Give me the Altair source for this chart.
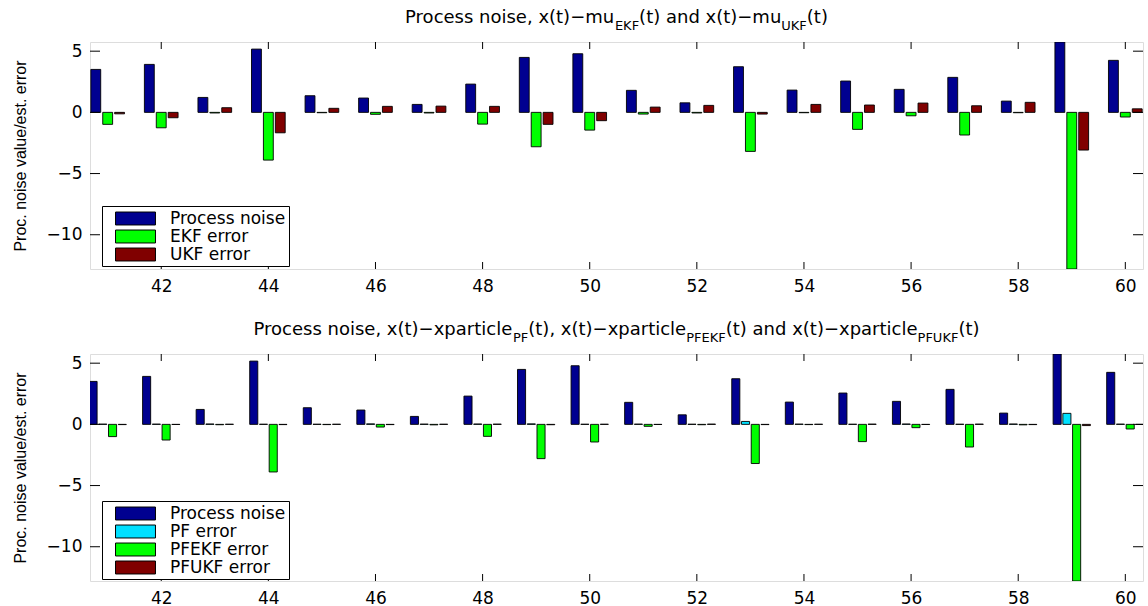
import altair as alt
import pandas as pd

# ---------------- data ----------------
t = list(range(41, 61))
process_noise = [3.51, 3.92, 1.22, 5.17, 1.36, 1.17, 0.65, 2.31, 4.49, 4.79,
                 1.80, 0.78, 3.73, 1.82, 2.56, 1.88, 2.86, 0.92, 5.75, 4.25]
ekf_error = [-0.98, -1.26, -0.05, -3.90, -0.03, -0.16, -0.05, -0.96, -2.81, -1.45,
             -0.14, -0.05, -3.19, -0.03, -1.39, -0.28, -1.85, -0.03, -12.8, -0.38]
ukf_error = [-0.12, -0.44, 0.38, -1.67, 0.33, 0.49, 0.51, 0.49, -0.98, -0.68,
             0.43, 0.57, -0.14, 0.65, 0.60, 0.76, 0.54, 0.82, -3.08, 0.29]
pf_error = [0.02, 0.02, 0.03, 0.01, 0.01, 0.04, 0.02, 0.03, 0.04, 0.01,
            0.02, 0.01, 0.24, 0.02, 0.01, 0.03, 0.01, 0.03, 0.90, 0.02]
pfekf_error = [-1.00, -1.28, -0.03, -3.89, -0.02, -0.22, -0.04, -0.98, -2.80, -1.44,
               -0.16, -0.03, -3.20, -0.02, -1.41, -0.27, -1.85, -0.04, -12.8, -0.38]
pfukf_error = [-0.02, -0.01, 0.01, -0.02, 0.01, -0.02, 0.01, 0.02, -0.03, 0.01,
               -0.01, 0.02, -0.02, 0.01, 0.02, -0.01, 0.02, -0.02, -0.10, -0.01]

top_names = ["Process noise", "EKF error", "UKF error"]
bot_names = ["Process noise", "PF error", "PFEKF error", "PFUKF error"]
top_colors = ["#000090", "#00FF00", "#800000"]
bot_colors = ["#000090", "#00E0FF", "#00FF00", "#800000"]

x_ticks = [42, 44, 46, 48, 50, 52, 54, 56, 58, 60]
y_ticks = [-10, -5, 0, 5]
x_domain = [40.67, 60.33]
y_domain = [-12.8, 5.75]

top_title = [("Process noise, x(t)\u2212mu", False), ("EKF", True),
             ("(t) and x(t)\u2212mu", False), ("UKF", True), ("(t)", False)]
bot_title = [("Process noise, x(t)\u2212xparticle", False), ("PF", True),
             ("(t), x(t)\u2212xparticle", False), ("PFEKF", True),
             ("(t) and x(t)\u2212xparticle", False), ("PFUKF", True), ("(t)", False)]

y_title = "Proc. noise value/est. error"

# ---------------- layout constants ----------------
W, H = 1053, 227
FONT = "DejaVu Sans"
TITLE_FS, SUB_FS = 18, 13

# DejaVu Sans advance widths (per 1000 em) for title layout
CW = {"P": 603, "r": 411, "o": 612, "c": 550, "e": 615, "s": 521, "n": 634,
      "i": 278, ",": 318, " ": 318, "x": 592, "(": 390, ")": 390, "\u2212": 838,
      "m": 974, "u": 634, "a": 613, "d": 635, "p": 635, "l": 278, "E": 632,
      "K": 656, "F": 575, "U": 732, "t": 392}


def text_width(s, fs):
    return sum(CW.get(ch, 600) for ch in s) * fs / 1000.0


def title_layers(parts):
    widths = [text_width(s, SUB_FS if sub else TITLE_FS) for s, sub in parts]
    x = W / 2 - sum(widths) / 2
    layers = []
    for (s, sub), w in zip(parts, widths):
        layers.append(
            alt.Chart(pd.DataFrame({"s": [s]}))
            .mark_text(align="left", baseline="alphabetic", font=FONT,
                       fontSize=SUB_FS if sub else TITLE_FS, color="black")
            .encode(text="s:N", x=alt.value(x), y=alt.value(-19 + (7 if sub else 0)))
        )
        x += w
    return layers


xscale = alt.Scale(domain=x_domain, nice=False, zero=False)
yscale = alt.Scale(domain=y_domain, nice=False, zero=False)
x_axis = alt.Axis(values=x_ticks, title=None, ticks=False, domain=False,
                  grid=False, format="d", labelFont=FONT, labelFontSize=17,
                  labelColor="black", labelPadding=9)
y_axis = alt.Axis(values=y_ticks, title=y_title, ticks=False, domain=False,
                  grid=False, labelFont=FONT, labelFontSize=17,
                  labelColor="black", labelPadding=8,
                  titleFont="Liberation Sans", titleFontSize=16,
                  titleFontWeight="normal", titleColor="black",
                  titlePadding=17.5)


def panel(series, names, colors, legend_y):
    n = len(names)
    rows = []
    for k, (name, vals) in enumerate(zip(names, series)):
        for tt, v in zip(t, vals):
            rows.append({"t": tt, "series": name, "idx": k, "value": v})
    df = pd.DataFrame(rows)
    group_w = min(0.8, n / (n + 1.5))
    step = group_w / n
    bw = step * 0.83

    bars = (
        alt.Chart(df)
        .transform_calculate(
            x0=f"datum.t + (datum.idx - {(n - 1) / 2}) * {step} - {bw / 2}",
            x1=f"datum.t + (datum.idx - {(n - 1) / 2}) * {step} + {bw / 2}",
        )
        .mark_rect(stroke="black", strokeWidth=0.9, clip=True)
        .encode(
            x=alt.X("x0:Q", scale=xscale, axis=x_axis),
            x2="x1:Q",
            y=alt.Y("value:Q", scale=yscale, axis=y_axis),
            y2=alt.datum(0),
            color=alt.Color(
                "series:N",
                scale=alt.Scale(domain=names, range=colors),
                legend=alt.Legend(
                    orient="none", legendX=12, legendY=legend_y, title=None,
                    symbolType="M-2.22,-0.72H2.22V0.72H-2.22Z", symbolSize=324,
                    symbolStrokeColor="black", symbolStrokeWidth=1, symbolOpacity=1,
                    labelFont=FONT, labelFontSize=17, labelColor="black",
                    strokeColor="black", fillColor="white", padding=3,
                    rowPadding=-1, symbolOffset=21, labelOffset=25,
                ),
            ),
        )
    )

    xt = pd.DataFrame({"v": x_ticks})
    yt = pd.DataFrame({"v": y_ticks})
    tick_top = alt.Chart(xt).mark_rule(color="black", strokeWidth=1).encode(
        x=alt.X("v:Q", scale=xscale, axis=x_axis), y=alt.value(0), y2=alt.value(7))
    tick_bot = alt.Chart(xt).mark_rule(color="black", strokeWidth=1).encode(
        x=alt.X("v:Q", scale=xscale, axis=x_axis), y=alt.value(H - 7), y2=alt.value(H))
    tick_left = alt.Chart(yt).mark_rule(color="black", strokeWidth=1).encode(
        y=alt.Y("v:Q", scale=yscale, axis=y_axis), x=alt.value(0), x2=alt.value(10))
    tick_right = alt.Chart(yt).mark_rule(color="black", strokeWidth=1).encode(
        y=alt.Y("v:Q", scale=yscale, axis=y_axis), x=alt.value(W - 10), x2=alt.value(W))

    return [bars, tick_top, tick_bot, tick_left, tick_right]


top = alt.layer(
    *panel([process_noise, ekf_error, ukf_error], top_names, top_colors, 164),
    *title_layers(top_title),
).properties(width=W, height=H)

bottom = alt.layer(
    *panel([process_noise, pf_error, pfekf_error, pfukf_error], bot_names, bot_colors, 147),
    *title_layers(bot_title),
).properties(width=W, height=H)

chart = (
    alt.vconcat(top, bottom, spacing=85, bounds="flush")
    .resolve_scale(color="independent")
    .resolve_legend(color="independent")
    .properties(padding={"left": 12, "top": 8, "right": 0, "bottom": 0})
    .configure_view(stroke="black", strokeWidth=1.2)
    .configure(background="white")
)

chart.save("out.html", embed_options={"renderer": "svg", "actions": False})
